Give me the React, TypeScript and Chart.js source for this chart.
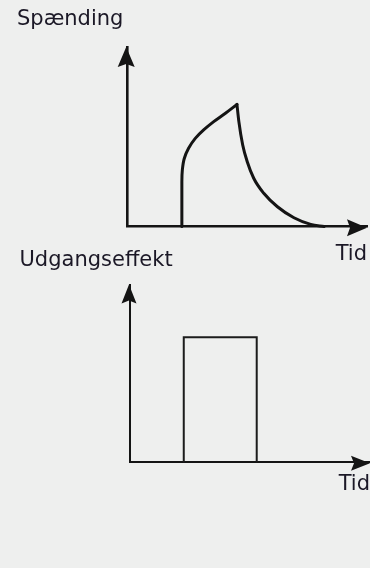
import React, { useEffect, useRef } from "react";
import { Chart, registerables } from "chart.js";

Chart.register(...registerables);

// ---- data ----
const topHeading = "Spænding";
const bottomHeading = "Udgangseffekt";
const timeLabel = "Tid";

const riseTime = [22.7, 22.7, 22.9, 23.7, 25.5, 28.3, 31.8, 36.0, 40.9, 45.7];
const riseVoltage = [0, 24.8, 31.5, 37.9, 43.6, 49.1, 53.8, 58.4, 63.1, 68.0];
const fallTime = [45.7, 46.5, 48.1, 50.0, 52.7, 56.9, 62.6, 69.5, 76.5, 82.1];
const fallVoltage = [68.0, 58.4, 45.4, 36.1, 26.9, 18.5, 11.0, 4.9, 1.2, 0];
const pulseTime = [22.4, 22.4, 52.8, 52.8];
const pulsePower = [0, 70.3, 70.3, 0];

const toPoints = (xs: number[], ys: number[]) => xs.map((x, i) => ({ x, y: ys[i] }));

const FONT = "'DejaVu Sans', Verdana, sans-serif";
const TEXT_COLOR = "#1b1826";
const INK = "#141414";
const BG = "#eeefee";

const arrowPlugin = {
  id: "axisArrows",
  afterDraw(chart: any, _args: any, opts: any) {
    const { ctx, chartArea, scales } = chart;
    const bw = opts.width || 2;
    const len = opts.len || 18;
    const half = opts.half || 8;
    const yx = scales.y.right - bw / 2;
    const xy = scales.x.top + bw / 2;
    ctx.save();
    ctx.fillStyle = opts.color || INK;
    // y arrow
    ctx.beginPath();
    ctx.moveTo(yx, chartArea.top);
    ctx.lineTo(yx + half, chartArea.top + len);
    ctx.lineTo(yx, chartArea.top + len - 3);
    ctx.lineTo(yx - half, chartArea.top + len);
    ctx.closePath();
    ctx.fill();
    // x arrow
    ctx.beginPath();
    ctx.moveTo(chartArea.right, xy);
    ctx.lineTo(chartArea.right - len, xy - half);
    ctx.lineTo(chartArea.right - len + 3, xy);
    ctx.lineTo(chartArea.right - len, xy + half);
    ctx.closePath();
    ctx.fill();
    ctx.restore();
  },
};

interface PanelSpec {
  heading: string;
  datasets: any[];
  padLeft: number;
  padRight: number;
  titleTop: number;
  titleBottom: number;
  yWidth: number;
  xHeight: number;
  xTitleBottom: number;
  axisWidth: number;
  arrowLen: number;
  arrowHalf: number;
}

function makeConfig(p: PanelSpec): any {
  return {
    type: "line",
    data: { datasets: p.datasets },
    options: {
      animation: false,
      responsive: false,
      events: [],
      layout: { padding: { left: p.padLeft, right: p.padRight, top: 0, bottom: 0 } },
      plugins: {
        legend: { display: false },
        tooltip: { enabled: false },
        title: {
          display: true,
          text: p.heading,
          align: "start",
          color: TEXT_COLOR,
          font: { family: FONT, size: 21, weight: "normal" },
          padding: { top: p.titleTop, bottom: p.titleBottom },
        },
        axisArrows: { width: p.axisWidth, len: p.arrowLen, half: p.arrowHalf, color: INK },
      },
      scales: {
        x: {
          type: "linear",
          min: 0,
          max: 100,
          grid: { display: false },
          ticks: { display: false },
          border: { display: true, color: INK, width: p.axisWidth },
          title: {
            display: true,
            text: timeLabel,
            align: "end",
            color: TEXT_COLOR,
            font: { family: FONT, size: 21, weight: "normal" },
            padding: { top: 0, bottom: p.xTitleBottom },
          },
          afterFit: (s: any) => {
            s.height = p.xHeight;
          },
        },
        y: {
          type: "linear",
          min: 0,
          max: 100,
          grid: { display: false },
          ticks: { display: false },
          border: { display: true, color: INK, width: p.axisWidth },
          afterFit: (s: any) => {
            s.width = p.yWidth;
          },
        },
      },
    },
    plugins: [arrowPlugin],
  };
}

function Panel({ spec, top, height }: { spec: PanelSpec; top: number; height: number }) {
  const ref = useRef<HTMLCanvasElement | null>(null);
  useEffect(() => {
    if (!ref.current) return;
    const chart = new Chart(ref.current, makeConfig(spec));
    return () => chart.destroy();
  }, []);
  return (
    <canvas
      ref={ref}
      width={370}
      height={height}
      style={{ position: "absolute", left: 0, top, width: 370, height, display: "block" }}
    />
  );
}

const topSpec: PanelSpec = {
  heading: topHeading,
  datasets: [
    {
      data: toPoints(riseTime, riseVoltage),
      indexAxis: "y",
      borderColor: INK,
      borderWidth: 3,
      pointRadius: 0,
      cubicInterpolationMode: "monotone",
      borderCapStyle: "round",
      clip: false,
    },
    {
      data: toPoints(fallTime, fallVoltage),
      borderColor: INK,
      borderWidth: 3,
      pointRadius: 0,
      cubicInterpolationMode: "monotone",
      borderCapStyle: "round",
      clip: false,
    },
  ],
  padLeft: 17,
  padRight: 3,
  titleTop: 7.4,
  titleBottom: 14.4,
  yWidth: 110.5,
  xHeight: 43.5,
  xTitleBottom: 3.2,
  axisWidth: 2.6,
  arrowLen: 20,
  arrowHalf: 8.5,
};

const bottomSpec: PanelSpec = {
  heading: bottomHeading,
  datasets: [
    {
      data: toPoints(pulseTime, pulsePower),
      borderColor: "#1c1c1c",
      borderWidth: 2,
      pointRadius: 0,
      tension: 0,
      borderJoinStyle: "miter",
      clip: false,
    },
  ],
  padLeft: 19.5,
  padRight: 0,
  titleTop: 8.4,
  titleBottom: 10.9,
  yWidth: 110.5,
  xHeight: 47.7,
  xTitleBottom: 13.2,
  axisWidth: 2,
  arrowLen: 19,
  arrowHalf: 7.5,
};

export default function App() {
  return (
    <div
      style={{
        position: "fixed",
        left: 0,
        top: 0,
        width: 370,
        height: 568,
        background: BG,
        overflow: "hidden",
      }}
    >
      <Panel spec={topSpec} top={0} height={270} />
      <Panel spec={bottomSpec} top={240} height={270} />
    </div>
  );
}
